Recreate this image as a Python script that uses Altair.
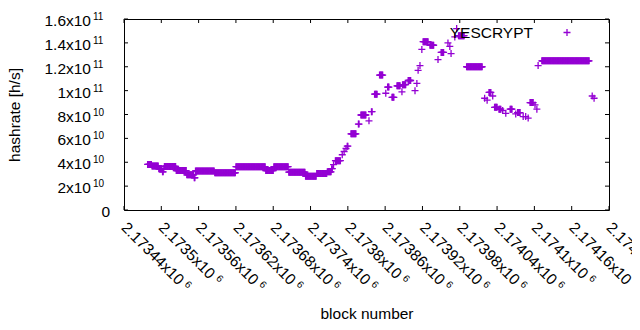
import altair as alt
import pandas as pd

# ---- data: runs of blocks sharing one hashrate value ----
run_start = [2173478, 2173485, 2173496, 2173502, 2173504, 2173505, 2173524, 2173541, 2173553,
             2173555, 2173586, 2173620, 2173668, 2173681, 2173705, 2173732, 2173750, 2173767,
             2173774, 2173777, 2173780, 2173791, 2173794, 2173797, 2173799,
             2173805, 2173817, 2173821, 2173834, 2173838, 2173843, 2173851, 2173861, 2173864,
             2173871, 2173879, 2173887, 2173888, 2173897, 2173908, 2173911, 2173913, 2173916,
             2173919, 2173921, 2173932, 2173945, 2173950, 2173961, 2173964, 2173966, 2173972,
             2173975, 2173978, 2173991, 2174020, 2174024, 2174027, 2174033, 2174036, 2174043,
             2174049, 2174054, 2174061, 2174070, 2174073, 2174082, 2174086, 2174090, 2174093,
             2174101, 2174104, 2174106, 2174112, 2174193, 2174196]
run_end = [2173484, 2173495, 2173501, 2173503, 2173504, 2173523, 2173540, 2173552, 2173554,
           2173585, 2173619, 2173667, 2173680, 2173704, 2173731, 2173749, 2173766, 2173773,
           2173775, 2173777, 2173788, 2173791, 2173794, 2173797, 2173800,
           2173813, 2173818, 2173829, 2173834, 2173839, 2173847, 2173856, 2173861, 2173866,
           2173874, 2173884, 2173887, 2173893, 2173901, 2173908, 2173911, 2173913, 2173916,
           2173919, 2173929, 2173938, 2173945, 2173954, 2173961, 2173964, 2173966, 2173972,
           2173975, 2173987, 2174016, 2174020, 2174024, 2174030, 2174033, 2174040, 2174046,
           2174049, 2174054, 2174064, 2174070, 2174077, 2174082, 2174086, 2174090, 2174098,
           2174101, 2174104, 2174106, 2174188, 2174193, 2174196]
run_value = [3.82e10, 3.68e10, 3.45e10, 3.2e10, 3.45e10, 3.65e10, 3.3e10, 2.95e10, 2.7e10,
             3.27e10, 3.12e10, 3.63e10, 3.3e10, 3.63e10, 3.17e10, 2.83e10, 3.05e10, 3.2e10,
             3.46e10, 3.8e10, 4.13e10, 4.63e10, 4.9e10, 5.15e10, 5.35e10,
             6.38e10, 7.2e10, 7.96e10, 7.47e10, 8.24e10, 9.7e10, 1.13e11, 9.78e10, 1.03e11,
             9.44e10, 1.04e11, 9.9e10, 1.05e11, 1.085e11, 1.0e11, 1.06e11, 1.17e11, 1.21e11,
             1.345e11, 1.41e11, 1.38e11, 1.26e11, 1.32e11, 1.40e11, 1.37e11, 1.31e11, 1.45e11,
             1.52e11, 1.46e11, 1.2e11, 9.36e10, 9.2e10, 9.85e10, 9.55e10, 8.6e10, 8.45e10,
             8.33e10, 8.1e10, 8.45e10, 8.05e10, 8.16e10, 7.83e10, 7.83e10, 7.7e10, 9.0e10,
             8.8e10, 8.45e10, 1.21e11, 1.25e11, 9.55e10, 9.36e10]

x_tick_values = [2173440, 2173500, 2173560, 2173620, 2173680, 2173740, 2173800,
                 2173860, 2173920, 2173980, 2174040, 2174100, 2174160, 2174220]
x_tick_main = ["2.17344x10", "2.1735x10", "2.17356x10", "2.17362x10", "2.17368x10",
               "2.17374x10", "2.1738x10", "2.17386x10", "2.17392x10", "2.17398x10",
               "2.17404x10", "2.1741x10", "2.17416x10", "2.17422x10"]
x_tick_sup = ["6"] * 14
y_tick_values = [0, 2e10, 4e10, 6e10, 8e10, 1e11, 1.2e11, 1.4e11, 1.6e11]
y_tick_main = ["0", "2x10", "4x10", "6x10", "8x10", "1x10", "1.2x10", "1.4x10", "1.6x10"]
y_tick_sup = ["", "10", "10", "10", "10", "11", "11", "11", "11"]
series_name = ["YESCRYPT"]

# ---- tables ----
rows = []
for s, e, v in zip(run_start, run_end, run_value):
    for b in range(s, e + 1):
        rows.append({"block": b, "hashrate": v})
df = pd.DataFrame(rows)
xt = pd.DataFrame({"block": x_tick_values, "main": x_tick_main, "sup": x_tick_sup})
yt = pd.DataFrame({"hashrate": y_tick_values, "main": y_tick_main, "sup": y_tick_sup})
leg = pd.DataFrame({"label": series_name})

W, H = 485, 191
FONT = "Liberation Sans"
FS = 15.5
SUP = 10
COLOR = "#9400d3"
PLUS = "M-1,0L1,0M0,-1L0,1"

x_scale = alt.Scale(domain=[x_tick_values[0], x_tick_values[-1]], nice=False, zero=False)
y_scale = alt.Scale(domain=[0, 1.6e11], nice=False)

x_axis = alt.Axis(labels=False, ticks=False, tickSize=0, domain=False, grid=False,
                  title="block number", titleY=108, titleBaseline="alphabetic",
                  titleFont=FONT, titleFontSize=FS, titleFontWeight="normal",
                  titleColor="black")
y_axis = alt.Axis(labels=False, ticks=False, tickSize=0, domain=False, grid=False,
                  title="hashrate [h/s]", titleX=-105, titleBaseline="alphabetic",
                  titleFont=FONT, titleFontSize=FS, titleFontWeight="normal",
                  titleColor="black")

X = alt.X("block:Q", scale=x_scale, axis=x_axis, title="block number")
Y = alt.Y("hashrate:Q", scale=y_scale, axis=y_axis, title="hashrate [h/s]")

points = alt.Chart(df).mark_point(shape=PLUS, filled=False, color=COLOR, strokeWidth=1.3,
                                  size=49, opacity=1).encode(x=X, y=Y)

tick_b = alt.Chart(xt).mark_rule(color="black", strokeWidth=1).encode(
    x=X, y=alt.value(H), y2=alt.value(H - 4))
tick_t = alt.Chart(xt).mark_rule(color="black", strokeWidth=1).encode(
    x=X, y=alt.value(0), y2=alt.value(4))
tick_l = alt.Chart(yt).mark_rule(color="black", strokeWidth=1).encode(
    y=Y, x=alt.value(0), x2=alt.value(4))
tick_r = alt.Chart(yt).mark_rule(color="black", strokeWidth=1).encode(
    y=Y, x=alt.value(W), x2=alt.value(W - 4))

# y tick labels: mantissa part and exponent part
ylab_main = alt.Chart(yt).transform_filter("datum.sup != ''").mark_text(
    align="right", baseline="middle", font=FONT, fontSize=FS, color="black", dy=2
).encode(y=Y, x=alt.value(-33), text="main:N")
ylab_zero = alt.Chart(yt).transform_filter("datum.sup == ''").mark_text(
    align="right", baseline="middle", font=FONT, fontSize=FS, color="black", dy=2
).encode(y=Y, x=alt.value(-14), text="main:N")
ylab_sup = alt.Chart(yt).transform_filter("datum.sup != ''").mark_text(
    align="left", baseline="middle", font=FONT, fontSize=SUP, color="black", dy=-2
).encode(y=Y, x=alt.value(-31), text="sup:N")

# x tick labels rotated by 45 degrees, exponent placed after the mantissa
LY = H + 15
xlab_main = alt.Chart(xt).mark_text(
    align="left", baseline="middle", angle=45, font=FONT, fontSize=FS, color="black"
).encode(x=X, y=alt.value(LY), text="main:N")
xlab_sup_long = alt.Chart(xt).transform_filter("length(datum.main) == 10").mark_text(
    align="left", baseline="middle", angle=45, font=FONT, fontSize=SUP, color="black",
    dx=85, dy=-3
).encode(x=X, y=alt.value(LY), text="sup:N")
xlab_sup_short = alt.Chart(xt).transform_filter("length(datum.main) == 9").mark_text(
    align="left", baseline="middle", angle=45, font=FONT, fontSize=SUP, color="black",
    dx=76.5, dy=-3
).encode(x=X, y=alt.value(LY), text="sup:N")

key_text = alt.Chart(leg).mark_text(align="right", baseline="middle", font=FONT,
                                    fontSize=FS, color="black").encode(
    x=alt.value(409), y=alt.value(13.5), text="label:N")
key_sym = alt.Chart(leg).mark_point(shape=PLUS, filled=False, color=COLOR, strokeWidth=1.3,
                                    size=49, opacity=1).encode(
    x=alt.value(443), y=alt.value(13.5))

chart = alt.layer(points, tick_b, tick_t, tick_l, tick_r, ylab_main, ylab_zero, ylab_sup,
                  xlab_main, xlab_sup_long, xlab_sup_short, key_text, key_sym).properties(
    width=W, height=H,
    background="white",
    autosize=alt.AutoSizeParams(type="none"),
    padding={"left": 116, "top": 11, "right": 23, "bottom": 111},
).configure_view(stroke="black", strokeWidth=1)

chart.save("out.html", embed_options={"renderer": "svg", "actions": False})
